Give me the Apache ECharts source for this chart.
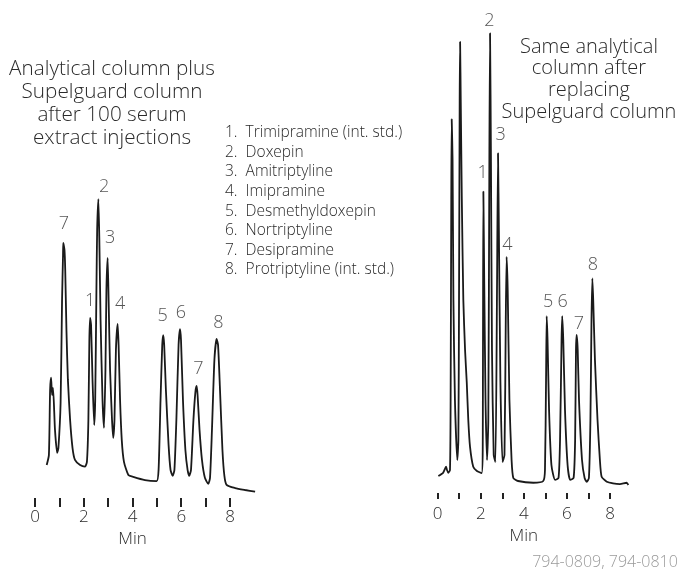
<!DOCTYPE html>
<html>
<head>
<meta charset="utf-8">
<script src="https://cdn.jsdelivr.net/npm/echarts@6/dist/echarts.min.js"></script>
<style>
html,body{margin:0;padding:0;background:#fff;}
#chart{width:683px;height:571px;}
</style>
</head>
<body>
<div id="chart"></div>
<script>
// ---- Data (time in min, detector response in arbitrary units) ----
// Left: analytical column + Supelguard column after 100 serum extract injections
const leftTime = [0.48,0.57,0.62,0.66,0.70,0.74,0.82,0.91,0.96,1.05,1.11,1.15,1.16,1.21,1.24,1.29,1.35,1.44,1.54,1.64,1.85,2.05,2.13,2.19,2.23,2.26,2.30,2.36,2.43,2.47,2.52,2.55,2.60,2.64,2.69,2.77,2.83,2.89,2.93,2.98,3.02,3.08,3.16,3.21,3.26,3.32,3.39,3.43,3.49,3.56,3.65,3.83,4.03,4.51,4.99,5.07,5.15,5.22,5.26,5.30,5.37,5.48,5.56,5.65,5.72,5.80,5.89,5.95,5.99,6.07,6.17,6.26,6.33,6.40,6.50,6.58,6.63,6.67,6.75,6.85,6.97,7.11,7.18,7.26,7.36,7.45,7.51,7.59,7.69,7.77,7.86,8.21,8.62,9.03];
const leftSignal = [10.3,13.4,33.8,37.6,32.2,34.4,21.3,14.1,15.6,29.7,61.9,75.9,79.7,77.5,71.3,52.5,36.9,24.4,15.6,11.9,10.3,9.8,11.3,24.4,49.4,56.3,54.1,36.9,22.8,30.6,65.0,83.8,93.4,80.6,55.6,30.6,21.9,40.0,65.0,75.0,61.9,40.0,24.4,18.8,24.4,46.3,54.4,47.8,30.6,18.1,11.3,7.2,6.6,5.6,5.3,8.8,30.6,47.8,50.9,47.8,33.8,16.6,8.8,6.9,8.8,24.4,47.8,52.8,49.4,30.6,15.0,8.8,6.9,8.8,24.4,33.1,35.0,32.2,21.3,11.9,6.3,4.4,6.3,21.3,43.1,49.7,47.8,33.8,15.0,6.9,4.1,3.1,2.5,2.0];

// Right: same analytical column after replacing Supelguard column
const rightTime = [0.03,0.25,0.39,0.43,0.49,0.57,0.60,0.63,0.65,0.69,0.73,0.80,0.91,0.96,0.99,1.02,1.04,1.07,1.12,1.19,1.27,1.35,1.42,1.50,1.65,1.82,2.04,2.09,2.12,2.16,2.22,2.29,2.35,2.40,2.43,2.47,2.52,2.60,2.68,2.75,2.80,2.84,2.91,3.01,3.10,3.16,3.20,3.25,3.33,3.43,3.51,3.73,4.44,4.90,4.98,5.03,5.06,5.10,5.17,5.28,5.45,5.61,5.68,5.75,5.78,5.83,5.91,6.03,6.15,6.31,6.38,6.42,6.45,6.50,6.56,6.70,6.82,6.92,7.02,7.09,7.14,7.18,7.22,7.30,7.42,7.53,7.61,7.85,8.14,8.46,8.77,8.85];
const rightSignal = [5.3,6.3,8.2,7.2,6.3,7.2,29.1,91.6,116.8,104.1,60.3,29.1,10.3,16.6,60.3,122.8,141.0,122.8,91.6,60.3,44.7,34.4,22.8,14.5,8.2,6.9,6.2,13.4,94.2,66.6,29.1,10.3,22.8,107.2,143.7,107.2,44.7,11.9,9.7,60.3,106.2,82.2,35.3,9.7,11.9,54.1,73.8,63.4,29.1,10.3,4.7,3.75,3.2,3.75,7.2,35.3,55.3,47.8,25.9,8.75,4.1,4.7,16.6,47.8,55.3,47.8,25.9,8.75,4.1,4.7,16.6,44.7,49.4,44.7,29.1,10.3,4.7,3.5,4.7,22.8,54.1,67.1,60.3,41.6,22.8,10.3,5.1,3.5,3.0,2.8,3.2,2.5];

// Peak numbers and where they are written (time, response)
const leftPeakNames   = ['7','1','2','3','4','5','6','7','8'];
const leftPeakTime    = [1.19,2.26,2.84,3.08,3.49,5.24,5.98,6.70,7.52];
const leftPeakSignal  = [85.8,61.7,97.3,81.2,60.8,56.9,57.7,40.5,54.8];
const rightPeakNames  = ['1','2','3','4','5','6','7','8'];
const rightPeakTime   = [2.09,2.40,2.92,3.23,5.13,5.80,6.56,7.20];
const rightPeakSignal = [100.1,147.6,111.9,77.5,59.8,59.8,53.0,71.3];

// Axis ticks and labels (minutes)
const tickValues  = [0,1,2,3,4,5,6,7,8];
const labelValues = [0,2,4,6,8];

// Compound list
const compounds = [
  'Trimipramine (int. std.)','Doxepin','Amitriptyline','Imipramine',
  'Desmethyldoxepin','Nortriptyline','Desipramine','Protriptyline (int. std.)'
];
const leftTitle = ['Analytical column plus','Supelguard column','after 100 serum','extract injections'];
const rightTitle = ['Same analytical','column after','replacing','Supelguard column'];
const axisName = 'Min';
const footnote = '794-0809, 794-0810';

// ---- Chart ----
const FONT = '"Open Sans", "DejaVu Sans", sans-serif';
const TXT = '#2a2a2a';
const W = 300;
const XMAX = 9.2;
const pair = (a, b) => a.map((v, i) => [v, b[i]]);
const labelData = (names, t, s) => names.map((n, i) => ({name: n, value: [t[i], s[i]]}));

function xAxisFor(idx, tickLen, labelMargin, nameGap, nameShift) {
  return {
    gridIndex: idx, type: 'value', min: 0, max: XMAX,
    axisLine: {show: false},
    splitLine: {show: false},
    axisTick: {show: true, inside: false, length: tickLen, customValues: tickValues,
               lineStyle: {color: '#222', width: 2}},
    axisLabel: {
      margin: labelMargin, fontFamily: FONT, fontSize: 17, fontWeight: W, color: TXT,
      customValues: labelValues, showMinLabel: true, showMaxLabel: true
    },
    name: axisName, nameLocation: 'middle', nameGap: nameGap,
    nameTextStyle: {fontFamily: FONT, fontSize: 17, fontWeight: W, color: TXT, verticalAlign: 'top',
                    padding: [0, nameShift, 0, 0]}
  };
}
function yAxisFor(idx) {
  return {gridIndex: idx, type: 'value', min: 0, max: 150, show: false};
}
const traceStyle = {color: '#1a1a1a', width: 1.8};
const peakLabel = {
  show: true, position: 'inside', formatter: '{b}',
  fontFamily: FONT, fontSize: 18, fontWeight: W, color: TXT
};

const option = {
  backgroundColor: '#fff',
  animation: false,
  grid: [
    {left: 35, top: 18, width: 24.375 * XMAX, height: 480},
    {left: 437.7, top: 13, width: 21.54 * XMAX, height: 480}
  ],
  xAxis: [xAxisFor(0, 9, 11, 28, 29), xAxisFor(1, 6, 13, 31, 26)],
  yAxis: [yAxisFor(0), yAxisFor(1)],
  title: [
    {text: leftTitle.join('\n'), left: 107, top: 53, textAlign: 'center',
     textStyle: {fontFamily: FONT, fontSize: 20.7, fontWeight: W, color: TXT, lineHeight: 23, align: 'center'}},
    {text: rightTitle.join('\n'), left: 584, top: 31, textAlign: 'center',
     textStyle: {fontFamily: FONT, fontSize: 20, fontWeight: W, color: TXT, lineHeight: 21.7, align: 'center'}},
    {text: compounds.map((c, i) => (i + 1) + '.  ' + c).join('\n'), left: 220, top: 118,
     textStyle: {fontFamily: FONT, fontSize: 15.5, fontWeight: W, color: TXT, lineHeight: 19.6}},
    {text: footnote, left: 600, top: 549, textAlign: 'center',
     textStyle: {fontFamily: FONT, fontSize: 16, fontWeight: W, color: '#9a9a9a'}}
  ],
  series: [
    {type: 'line', xAxisIndex: 0, yAxisIndex: 0, data: pair(leftTime, leftSignal),
     showSymbol: false, clip: false, smooth: 0.2, lineStyle: traceStyle, silent: true},
    {type: 'line', xAxisIndex: 1, yAxisIndex: 1, data: pair(rightTime, rightSignal),
     showSymbol: false, clip: false, smooth: 0.2, lineStyle: traceStyle, silent: true},
    {type: 'scatter', xAxisIndex: 0, yAxisIndex: 0, symbolSize: 0, clip: false,
     data: labelData(leftPeakNames, leftPeakTime, leftPeakSignal), label: peakLabel, silent: true},
    {type: 'scatter', xAxisIndex: 1, yAxisIndex: 1, symbolSize: 0, clip: false,
     data: labelData(rightPeakNames, rightPeakTime, rightPeakSignal), label: peakLabel, silent: true}
  ]
};
echarts.init(document.getElementById('chart'), null, {renderer: 'canvas'}).setOption(option);
</script>
</body>
</html>
